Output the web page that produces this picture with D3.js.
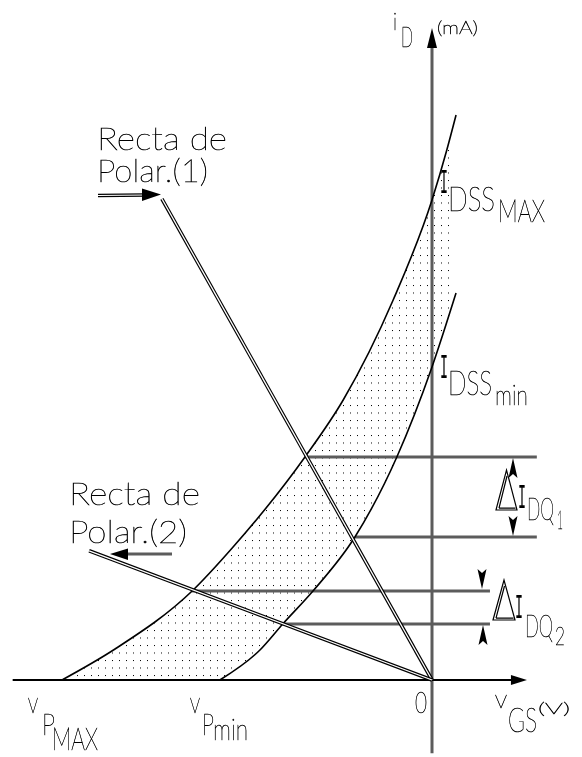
<!DOCTYPE html>
<html><head><meta charset="utf-8">
<script src="https://cdn.jsdelivr.net/npm/d3@7"></script>
<style>
html,body{margin:0;padding:0;background:#fff;}
svg{display:block;will-change:transform;}
text{font-family:Lato,"DejaVu Sans",sans-serif;font-weight:100;fill:#000;stroke:#000;stroke-width:0.5;}
text.serif{font-family:"Liberation Mono","DejaVu Sans Mono",monospace;font-weight:400;stroke:none;}
</style></head><body>
<svg id="chart" width="582" height="757"></svg>
<script>
// Transfer characteristics of the two limit devices (V_GS in V, i_D in mA)
const curveMaxV = [-6, -5.14, -3.89, -3.24, -2.06, -1.44, -0.63, 0, 0.24, 0.39];
const curveMaxI = [0, 0.775, 2.225, 3.3, 5.575, 7.0, 9.5, 12, 13.25, 14.125];
const curveMinV = [-3.44, -2.79, -2.42, -1.93, -1.25, -0.57, 0, 0.39];
const curveMinI = [0, 0.75, 1.4, 2.225, 3.575, 5.575, 7.825, 9.675];
// Bias lines from the origin: far end of each
const biasEndV = [-4.38, -5.56];
const biasEndI = [12.03, 3.23];
// Quiescent current levels and the span of each level line
const qCurrent = [5.575, 3.575, 2.225, 1.4];
const qStartV = [-2.06, -1.25, -3.89, -2.42];
const qEndV = [1.70, 1.70, 0.94, 0.94];
// Axis extents
const vAxisRange = [-6.8, 1.54];
const iAxisRange = [-1.83, 16.3];
const shadeLimitV = 0.324;
// Label texts
const biasLabels = [["Recta de", "Polar.(1)"], ["Recta de", "Polar.(2)"]];
const idssLabels = [["I", "DSS", "MAX"], ["I", "DSS", "min"]];
const vpLabels = [["V", "P", "MAX"], ["V", "P", "min"]];
const deltaLabels = [["I", "DQ", "1"], ["I", "DQ", "2"]];

const svg = d3.select("#chart");
const x = d3.scaleLinear().domain([-6, 0]).range([62, 432]);
const y = d3.scaleLinear().domain([0, 12]).range([680, 200]);

const maxPts = curveMaxV.map((v, i) => [v, curveMaxI[i]]);
const minPts = curveMinV.map((v, i) => [v, curveMinI[i]]);
const line = d3.line().x(d => x(d[0])).y(d => y(d[1])).curve(d3.curveMonotoneX);

// dotted shading between the two curves
const defs = svg.append("defs");
const pat = defs.append("pattern").attr("id", "dots")
  .attr("patternUnits", "userSpaceOnUse").attr("width", 7).attr("height", 7.5);
pat.append("rect").attr("x", 0).attr("y", 0).attr("width", 1).attr("height", 1).attr("fill", "#000");
defs.append("clipPath").attr("id", "shadeClip").append("rect")
  .attr("x", 0).attr("y", 0).attr("width", x(shadeLimitV)).attr("height", y(0) + 1);
const shadePath = line(maxPts) + line(minPts.slice().reverse()).replace(/^M/, "L") + "Z";
svg.append("path").attr("d", shadePath).attr("fill", "url(#dots)").attr("clip-path", "url(#shadeClip)");

// vertical axis (i_D)
svg.append("line").attr("x1", x(0)).attr("x2", x(0))
  .attr("y1", y(iAxisRange[0])).attr("y2", y(iAxisRange[1]) + 18)
  .attr("stroke", "#5c5c5c").attr("stroke-width", 3);
svg.append("path").attr("d", d3.line()([[x(0), y(iAxisRange[1])], [x(0) - 5, y(iAxisRange[1]) + 20], [x(0) + 5, y(iAxisRange[1]) + 20]]) + "Z")
  .attr("fill", "#000");

// quiescent level lines
qCurrent.forEach((c, i) => {
  svg.append("line").attr("x1", x(qStartV[i])).attr("x2", x(qEndV[i]))
    .attr("y1", y(c)).attr("y2", y(c)).attr("stroke", "#5c5c5c").attr("stroke-width", 3);
});

// horizontal axis (V_GS)
svg.append("line").attr("x1", x(vAxisRange[0])).attr("x2", x(vAxisRange[1]) - 14)
  .attr("y1", y(0)).attr("y2", y(0)).attr("stroke", "#000").attr("stroke-width", 2);
svg.append("path").attr("d", d3.line()([[x(vAxisRange[1]), y(0)], [x(vAxisRange[1]) - 16, y(0) - 5], [x(vAxisRange[1]) - 16, y(0) + 5]]) + "Z")
  .attr("fill", "#000");

// the two transfer curves
[maxPts, minPts].forEach(p => {
  svg.append("path").attr("d", line(p)).attr("fill", "none").attr("stroke", "#000").attr("stroke-width", 1.6);
});

// bias lines (double stroke)
biasEndV.forEach((v, i) => {
  const d = d3.line()([[x(0), y(0)], [x(v), y(biasEndI[i])]]);
  svg.append("path").attr("d", d).attr("stroke", "#000").attr("stroke-width", 3.6).attr("fill", "none");
  svg.append("path").attr("d", d).attr("stroke", "#fff").attr("stroke-width", 1.3).attr("fill", "none");
});

// pointer arrows for the bias line captions
function dbl(d) {
  svg.append("path").attr("d", d).attr("stroke", "#000").attr("stroke-width", 3.4).attr("fill", "none");
  svg.append("path").attr("d", d).attr("stroke", "#fff").attr("stroke-width", 1.2).attr("fill", "none");
}
dbl("M98,195.5L146,195");
svg.append("path").attr("d", "M142,188.5L161,194.5L142,201Z").attr("fill", "#000");
svg.append("line").attr("x1", 172).attr("x2", 124).attr("y1", 554).attr("y2", 554)
  .attr("stroke", "#5c5c5c").attr("stroke-width", 3);
svg.append("path").attr("d", "M110,554L128,548.5L128,560Z").attr("fill", "#000");

// delta arrows
const heads = [
  [513, y(qCurrent[0]) + 1, -1], [513, y(qCurrent[1]) - 1, 1],
  [482, y(qCurrent[2]) - 2, 1], [483, y(qCurrent[3]) + 1, -1]
];
heads.forEach(([hx, hy, dir]) => {
  const by = hy - dir * 20;
  svg.append("path").attr("d", `M${hx},${hy}L${hx - 4.5},${by}L${hx},${by + dir * 4}L${hx + 4.5},${by}Z`).attr("fill", "#000");
});

// delta glyphs
function delta(x0, top, bot, w) {
  const g = svg.append("g").attr("fill", "none").attr("stroke", "#000").attr("stroke-width", 1.2);
  g.append("path").attr("d", `M${x0},${bot}L${x0 + w / 2},${top}L${x0 + w},${bot}Z`);
  g.append("path").attr("d", `M${x0 + 3},${bot - 1.8}L${x0 + w / 2 + 0.5},${top + 6}M${x0 + 3},${bot - 1.8}L${x0 + w - 1.5},${bot - 1.8}`);
}
delta(496, 470, 510, 21);
delta(493, 580, 620, 22);

// text helper
function txt(s, tx, ty, size, len, cls) {
  const t = svg.append("text").attr("x", tx).attr("y", ty).attr("font-size", size).text(s);
  if (len) t.attr("textLength", len).attr("lengthAdjust", "spacingAndGlyphs");
  if (cls) t.attr("class", cls);
  return t;
}

// captions
txt(biasLabels[0][0], 97, 150, 31, 130);
txt(biasLabels[0][1], 97, 182, 31, 111);
txt(biasLabels[1][0], 69, 505, 31, 131);
txt(biasLabels[1][1], 69, 543, 31, 118);

// axis titles
txt("i", 393, 30, 24, 4);
txt("D", 401, 47, 27, 12);
txt("(mA)", 437, 34, 18, 41);
txt("0", 415, 713, 29, 12);
txt("V", 495, 708, 18, 12);
txt("GS", 508, 732, 34, 29);
txt("(V)", 538, 714, 16, 32);

// I_DSS labels
txt(idssLabels[0][0], 440, 193, 35, 8, "serif");
txt(idssLabels[0][1], 448, 211, 33, 47);
txt(idssLabels[0][2], 498, 222, 31, 47);
txt(idssLabels[1][0], 440, 378, 35, 8, "serif");
txt(idssLabels[1][1], 448, 395, 33, 44);
txt(idssLabels[1][2], 495, 405, 27, 33);

// V_P labels
txt(vpLabels[0][0], 28, 713, 21, 10);
txt(vpLabels[0][1], 42, 735, 30, 13);
txt(vpLabels[0][2], 52, 750, 32, 46);
txt(vpLabels[1][0], 190, 713, 21, 10);
txt(vpLabels[1][1], 202, 735, 30, 12);
txt(vpLabels[1][2], 213, 740, 30, 35);

// delta I_DQ labels
txt(deltaLabels[0][0], 518, 508, 35, 8, "serif");
txt(deltaLabels[0][1], 527, 520, 32, 27);
txt(deltaLabels[0][2], 557, 529, 26, 6);
txt(deltaLabels[1][0], 515, 618, 35, 8, "serif");
txt(deltaLabels[1][1], 525, 637, 32, 28);
txt(deltaLabels[1][2], 555, 645, 26, 10);
</script></body></html>
